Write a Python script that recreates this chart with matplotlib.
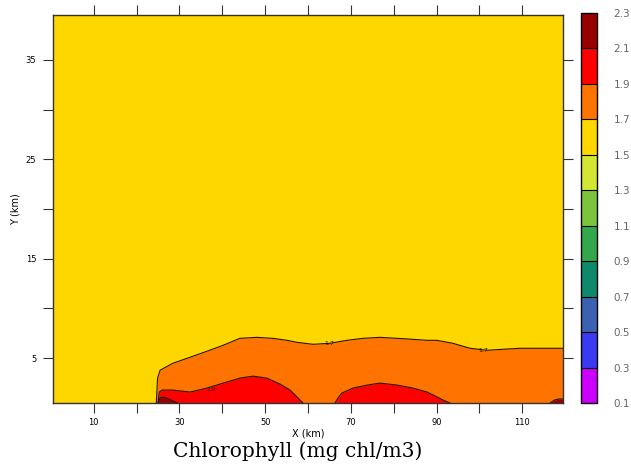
import matplotlib
matplotlib.use('Agg')
import matplotlib.pyplot as plt
import matplotlib.colors as mcolors
import numpy as np

# colour levels of the field (mg chl/m3)
levels = [0.1, 0.3, 0.5, 0.7, 0.9, 1.1, 1.3, 1.5, 1.7, 1.9, 2.1, 2.3]
band_colors = ['#cc00ff', '#3a3af0', '#3a62b0', '#0e8a6a', '#33a84a', '#7cc43c',
               '#d2e632', '#ffd700', '#ff7400', '#ff0000', '#990000']

# isoline heights (km)
x_17 = [24.6, 24.9, 25.5, 28.5, 32.5, 36.4, 40.2, 44.1, 48.1, 51.8, 55.1, 57.4, 61.2, 65.1,
        69.1, 72.8, 76.8, 80.8, 84.5, 87.8, 90.1, 93.8, 97.8, 101.8, 105.5, 109.5, 113.4, 119.5]
y_17 = [0.5, 3.0, 3.8, 4.5, 5.1, 5.7, 6.3, 7.0, 7.1, 7.0, 6.8, 6.6, 6.4, 6.5,
        6.8, 7.0, 7.1, 7.0, 6.9, 6.8, 6.8, 6.5, 6.0, 5.8, 5.9, 6.0, 6.0, 6.0]

x_19a = [25.0, 25.3, 26.0, 28.5, 32.5, 36.4, 40.2, 44.1, 47.2, 50.4, 53.5, 55.8, 57.7, 58.8]
y_19a = [0.5, 1.6, 1.8, 1.8, 1.6, 2.0, 2.5, 3.0, 3.2, 3.0, 2.4, 1.8, 1.0, 0.5]
x_19b = [66.3, 67.0, 67.9, 70.5, 73.8, 76.8, 80.8, 84.5, 87.8, 89.2, 91.5, 93.1]
y_19b = [0.5, 1.0, 1.5, 2.0, 2.3, 2.5, 2.3, 2.0, 1.6, 1.3, 0.8, 0.5]

x_21a = [25.0, 25.5, 26.5, 28.0, 29.5]
y_21a = [0.5, 1.0, 1.1, 0.8, 0.5]
x_21b = [116.5, 117.5, 118.5, 119.5]
y_21b = [0.5, 0.8, 0.9, 0.9]

# (x, y, text) of the contour labels
clabels = [(65.0, 6.5, '1.7'), (101.0, 5.8, '1.7'), (37.5, 1.9, '1.9')]

x_range = (0.5, 119.5)
y_range = (0.5, 39.5)

fig = plt.figure(figsize=(6.31, 4.69), dpi=100)
ax = fig.add_axes([53/631, 1-403/469, 510/631, 388/469])
cax = fig.add_axes([581/631, 1-403/469, 16/631, 390/469])

line_col = '#2a1200'
ax.set_facecolor(band_colors[levels.index(1.5)])
for xs, ys, lev in [(x_17, y_17, 1.7), (x_19a, y_19a, 1.9), (x_19b, y_19b, 1.9),
                    (x_21a, y_21a, 2.1), (x_21b, y_21b, 2.1)]:
    ax.fill_between(xs, y_range[0], ys, color=band_colors[levels.index(lev)], lw=0)
    ax.plot(xs, ys, color=line_col, lw=0.8)

for cx, cy, t in clabels:
    ax.text(cx, cy, t, fontsize=4.5, color=line_col, ha='center', va='center')

ax.set_xlim(*x_range)
ax.set_ylim(*y_range)
xt = np.arange(10, 120, 10)
ax.set_xticks(xt)
ax.set_xticklabels([str(v) if v % 20 == 10 else '' for v in xt], fontsize=6)
yt = np.arange(5, 40, 5)
ax.set_yticks(yt)
ax.set_yticklabels([str(v) if v % 10 == 5 else '' for v in yt], fontsize=6)
ax.tick_params(direction='out', length=7, width=0.8, top=True, right=True, color='#333333')
ax.tick_params(axis='x', pad=4)
ax.tick_params(axis='y', pad=5)
for s in ax.spines.values():
    s.set_color('#333333')
    s.set_linewidth(1.0)
ax.set_xlabel('X (km)', fontsize=7, labelpad=1)
ax.set_ylabel('Y (km)', fontsize=7, labelpad=4)

cmap = mcolors.ListedColormap(band_colors)
norm = mcolors.BoundaryNorm(levels, cmap.N)
sm = plt.cm.ScalarMappable(norm=norm, cmap=cmap)
cb = fig.colorbar(sm, cax=cax, ticks=levels, drawedges=True)
cb.outline.set_linewidth(1.0)
cb.dividers.set_linewidth(0.8)
cb.ax.tick_params(length=0, pad=12, labelsize=7.5, labelcolor='#666666')
cb.ax.set_yticklabels(['%.1f' % v for v in levels])

fig.text(0.472, 0.038, 'Chlorophyll (mg chl/m3)', family='DejaVu Serif', fontsize=14.5,
         ha='center', va='center')

fig.savefig('out.png', dpi=100)
